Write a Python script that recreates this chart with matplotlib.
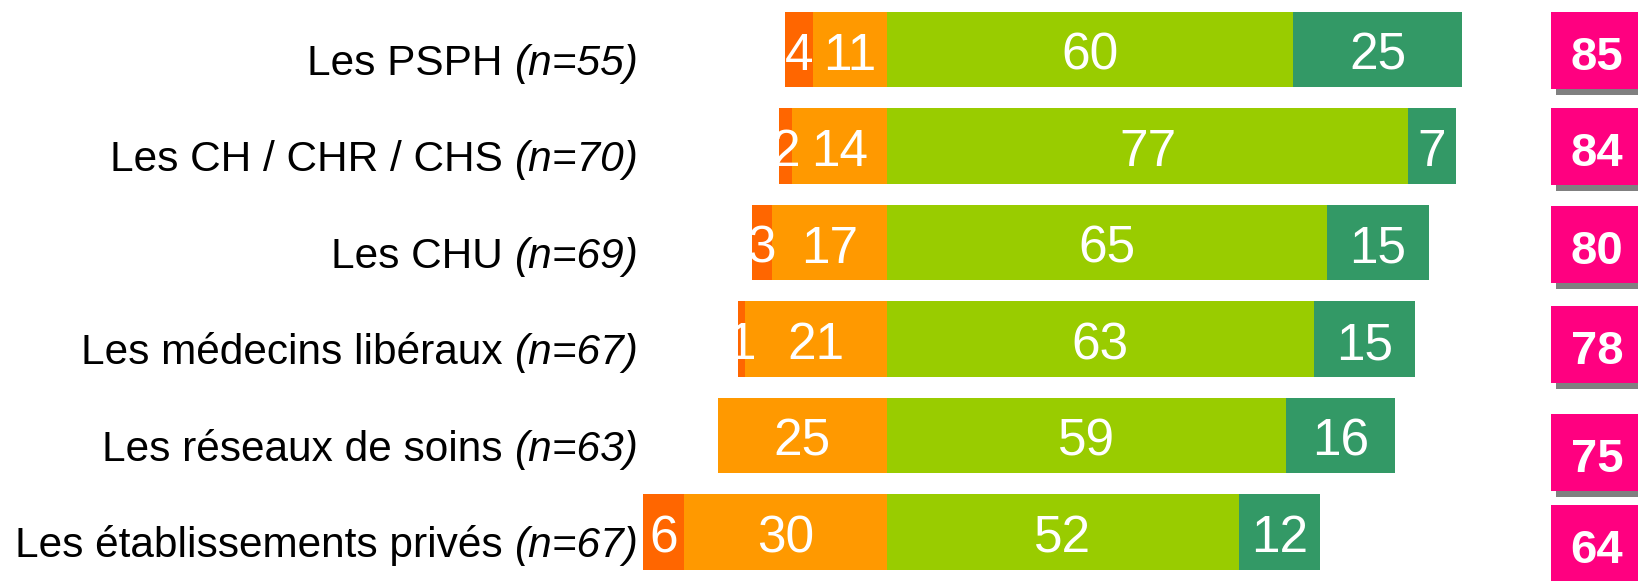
import numpy as np
import matplotlib
matplotlib.use('Agg')
import matplotlib.pyplot as plt
from matplotlib.patches import Rectangle

plt.rcParams['font.family'] = ['Liberation Sans', 'DejaVu Sans']

# data
groups = ['Les PSPH', 'Les CH / CHR / CHS', 'Les CHU', 'Les médecins libéraux',
          'Les réseaux de soins', 'Les établissements privés']
n_sizes = [55, 70, 69, 67, 63, 67]
tres_neg = [4, 2, 3, 1, 0, 6]
neg = [11, 14, 17, 21, 25, 30]
pos = [60, 77, 65, 63, 59, 52]
tres_pos = [25, 7, 15, 15, 16, 12]
totals = [85, 84, 80, 78, 75, 64]

# colours
c_tneg = '#FF6600'
c_neg = '#FF9900'
c_pos = '#99CC00'
c_tpos = '#339966'
c_box = '#FF0080'
c_shadow = '#808080'

W, H = 1638, 581
fig = plt.figure(figsize=(W / 100, H / 100), dpi=100)
ax = fig.add_axes([0, 0, 1, 1])

# layout: px per point, zero line at x=887px, rows every 96.5px
ppu = 6.77
x_zero = 887
row = 96.5
top = 49.5
ax.set_xlim(-x_zero / ppu, (W - x_zero) / ppu)
ax.set_ylim((H - top) / row, -top / row)
ax.axis('off')

y = np.arange(len(groups))
h = 0.78
tn = np.array(tres_neg)
ng = np.array(neg)
ps = np.array(pos)
tp = np.array(tres_pos)

ax.barh(y, -ng, height=h, color=c_neg)
ax.barh(y, -tn, left=-ng, height=h, color=c_tneg)
ax.barh(y, ps, height=h, color=c_pos)
ax.barh(y, tp, left=ps, height=h, color=c_tpos)

# values inside the segments (white, so they vanish off the bar)
num_kw = dict(color='white', fontsize=37, ha='center', va='baseline')
for i in range(len(groups)):
    yb = y[i] + 0.21
    if tn[i] > 0:
        ax.text(-ng[i] - tn[i] / 2, yb, str(tn[i]), **num_kw)
    ax.text(-ng[i] / 2, yb, str(ng[i]), **num_kw)
    ax.text(ps[i] / 2, yb, str(ps[i]), **num_kw)
    ax.text(ps[i] + tp[i] / 2, yb, str(tp[i]), **num_kw)

# category labels, sample size in italics
lab_x = (638 - x_zero) / ppu
for i, (g, n) in enumerate(zip(groups, n_sizes)):
    t = ax.text(lab_x, y[i] + 0.26, f'(n={n})', fontsize=30.5, style='italic',
                ha='right', va='baseline', color='black')
    ax.annotate(g + ' ', xy=(0, 0), xycoords=t, ha='right', va='bottom',
                fontsize=30.5, color='black')

# pink total boxes with shadow
box_shift = [0.01, 0.0, 0.02, 0.057, 0.176, 0.12]
bx = (1551 - x_zero) / ppu
bw = 92 / ppu
bh = 77 / row
sdx = 5 / ppu
sdy = 6 / row
for i, tot in enumerate(totals):
    yc = y[i] + box_shift[i]
    ax.add_patch(Rectangle((bx + sdx, yc - bh / 2 + sdy), bw, bh,
                           color=c_shadow, lw=0, zorder=3))
    ax.add_patch(Rectangle((bx, yc - bh / 2), bw, bh, color=c_box, lw=0, zorder=4))
    ax.text(bx + bw / 2, yc + 19.5 / row, str(tot), color='white', fontsize=34,
            fontweight='bold', ha='center', va='baseline', zorder=5)

fig.savefig('out.png', dpi=100)
